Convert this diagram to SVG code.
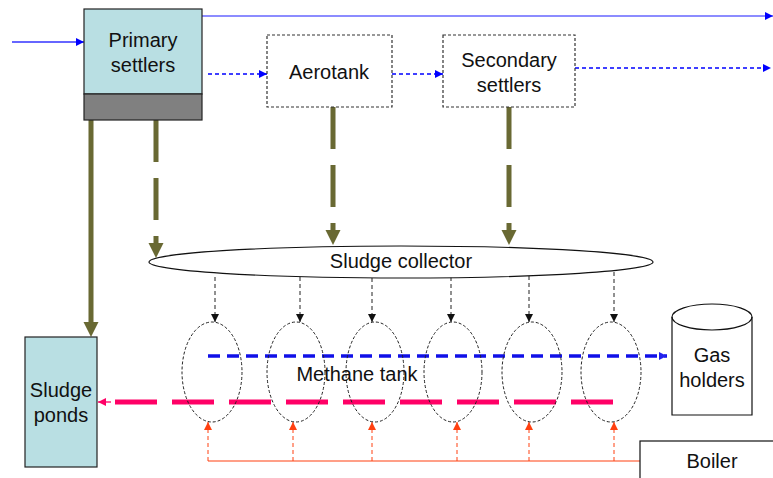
<svg xmlns="http://www.w3.org/2000/svg" width="773" height="478" viewBox="0 0 773 478">
<style>
text{font-family:"Liberation Sans",Arial,sans-serif;font-size:20px;fill:#111;text-anchor:middle}
.box{fill:#b9dfe3;stroke:#222;stroke-width:1.2}
.dbox{fill:#fff;stroke:#333;stroke-width:1.2;stroke-dasharray:3 2}
.tank{fill:none;stroke:#222;stroke-width:1;stroke-dasharray:3 2}
.olive{stroke:#696933;stroke-width:5;fill:none}
.bdash{stroke:#0000ff;stroke-width:1.3;stroke-dasharray:4 3;fill:none}
.kdash{stroke:#222;stroke-width:1;stroke-dasharray:4 3;fill:none}
.odash{stroke:#ff4010;stroke-width:1;stroke-dasharray:4 3;fill:none}
</style>
<defs>
<marker id="ab" markerUnits="userSpaceOnUse" markerWidth="10" markerHeight="10" refX="8" refY="5" orient="auto"><path d="M0,1 L8,5 L0,9 z" fill="#0000ff"/></marker>
<marker id="ab2" markerUnits="userSpaceOnUse" markerWidth="10" markerHeight="10" refX="8" refY="5" orient="auto"><path d="M0,1 L8,5 L0,9 z" fill="#2222ee"/></marker>
<marker id="ak" markerUnits="userSpaceOnUse" markerWidth="10" markerHeight="10" refX="8" refY="5" orient="auto"><path d="M0,1 L8,5 L0,9 z" fill="#111"/></marker>
<marker id="ao" markerUnits="userSpaceOnUse" markerWidth="10" markerHeight="10" refX="8" refY="5" orient="auto"><path d="M0,1 L8,5 L0,9 z" fill="#ff4010"/></marker>
<marker id="am" markerUnits="userSpaceOnUse" markerWidth="10" markerHeight="10" refX="8" refY="5" orient="auto"><path d="M0,1 L8,5 L0,9 z" fill="#ff0066"/></marker>
</defs>

<g id="connectors">
  <line x1="12" y1="42" x2="84" y2="42" stroke="#3333ff" stroke-width="1.3" marker-end="url(#ab)"/>
  <line x1="202" y1="16" x2="773" y2="16" stroke="#6666ff" stroke-width="1.6" marker-end="url(#ab)"/>
  <line x1="208" y1="74" x2="267" y2="74" class="bdash" marker-end="url(#ab)"/>
  <line x1="392" y1="74" x2="443" y2="74" class="bdash" marker-end="url(#ab)"/>
  <line x1="575" y1="68" x2="771" y2="68" class="bdash" marker-end="url(#ab)"/>
  <!-- olive sludge arrows -->
  <line x1="156" y1="120" x2="156" y2="244" class="olive" stroke-dasharray="42 16"/>
  <path d="M148.5,243 L163.5,243 L156,258 z" fill="#696933"/>
  <line x1="333" y1="107" x2="333" y2="231" class="olive" stroke-dasharray="42 16"/>
  <path d="M325.5,230 L340.5,230 L333,245 z" fill="#696933"/>
  <line x1="509" y1="107" x2="509" y2="231" class="olive" stroke-dasharray="42 16"/>
  <path d="M501.5,230 L516.5,230 L509,245 z" fill="#696933"/>
  <line x1="91" y1="120" x2="91" y2="323" class="olive"/>
  <path d="M83.5,322 L98.5,322 L91,337 z" fill="#696933"/>
  <!-- collector to tanks -->
  <line x1="215" y1="277" x2="215" y2="322" class="kdash" marker-end="url(#ak)"/>
  <line x1="300" y1="277" x2="300" y2="322" class="kdash" marker-end="url(#ak)"/>
  <line x1="372" y1="278" x2="372" y2="322" class="kdash" marker-end="url(#ak)"/>
  <line x1="451" y1="277" x2="451" y2="322" class="kdash" marker-end="url(#ak)"/>
  <line x1="529" y1="276" x2="529" y2="322" class="kdash" marker-end="url(#ak)"/>
  <line x1="614" y1="272" x2="614" y2="322" class="kdash" marker-end="url(#ak)"/>
  <!-- gas line -->
  <line x1="208" y1="356" x2="667" y2="356" stroke="#1010e8" stroke-width="3.5" stroke-dasharray="12 7" marker-end="url(#ab2)"/>
  <!-- sludge out line -->
  <line x1="115" y1="402" x2="614" y2="402" stroke="#ff0066" stroke-width="5" stroke-dasharray="42 15"/>
  <line x1="111" y1="402" x2="98" y2="402" stroke="#ff0066" stroke-width="1.3" marker-end="url(#am)"/>
  <!-- boiler heating -->
  <line x1="208" y1="461" x2="640" y2="461" stroke="#ff4010" stroke-width="1.2"/>
  <line x1="208" y1="461" x2="208" y2="422" class="odash" marker-end="url(#ao)"/>
  <line x1="293" y1="461" x2="293" y2="422" class="odash" marker-end="url(#ao)"/>
  <line x1="372" y1="461" x2="372" y2="422" class="odash" marker-end="url(#ao)"/>
  <line x1="457" y1="461" x2="457" y2="422" class="odash" marker-end="url(#ao)"/>
  <line x1="529" y1="461" x2="529" y2="422" class="odash" marker-end="url(#ao)"/>
  <line x1="614" y1="461" x2="614" y2="422" class="odash" marker-end="url(#ao)"/>
</g>

<g id="primary-settlers">
  <rect x="84" y="9" width="118" height="85" class="box"/>
  <rect x="84" y="94" width="118" height="26" fill="#808080" stroke="#222" stroke-width="1.2"/>
  <text x="143" y="47">Primary</text>
  <text x="143" y="72">settlers</text>
</g>
<g id="aerotank">
  <rect x="267" y="35" width="125" height="72" class="dbox"/>
  <text x="329" y="79">Aerotank</text>
</g>
<g id="secondary-settlers">
  <rect x="443" y="35" width="132" height="72" class="dbox"/>
  <text x="509" y="67">Secondary</text>
  <text x="509" y="92">settlers</text>
</g>
<g id="sludge-collector">
  <ellipse cx="401" cy="262" rx="252" ry="16" fill="#fff" stroke="#111" stroke-width="1.2"/>
  <text x="401" y="268">Sludge collector</text>
</g>
<g id="methane-tank">
  <ellipse cx="212" cy="372" rx="30" ry="50" class="tank"/>
  <ellipse cx="296" cy="372" rx="29" ry="50" class="tank"/>
  <ellipse cx="375" cy="372" rx="29" ry="50" class="tank"/>
  <ellipse cx="453" cy="372" rx="29" ry="50" class="tank"/>
  <ellipse cx="532" cy="372" rx="30" ry="50" class="tank"/>
  <ellipse cx="611" cy="372" rx="30" ry="50" class="tank"/>
  <text x="357" y="381">Methane tank</text>
</g>
<g id="gas-holders">
  <path d="M672,317 A40,13 0 0,1 752,317 L752,415 L672,415 Z" fill="#fff" stroke="#111" stroke-width="1.2"/>
  <path d="M672,317 A40,13 0 0,0 752,317" fill="none" stroke="#111" stroke-width="1.2"/>
  <text x="712" y="362">Gas</text>
  <text x="712" y="387">holders</text>
</g>
<g id="sludge-ponds">
  <rect x="25" y="337" width="72" height="130" class="box"/>
  <text x="61" y="397">Sludge</text>
  <text x="61" y="422">ponds</text>
</g>
<g id="boiler">
  <rect x="640" y="441" width="140" height="45" fill="#fff" stroke="#111" stroke-width="1.2"/>
  <text x="712" y="468">Boiler</text>
</g>
</svg>
